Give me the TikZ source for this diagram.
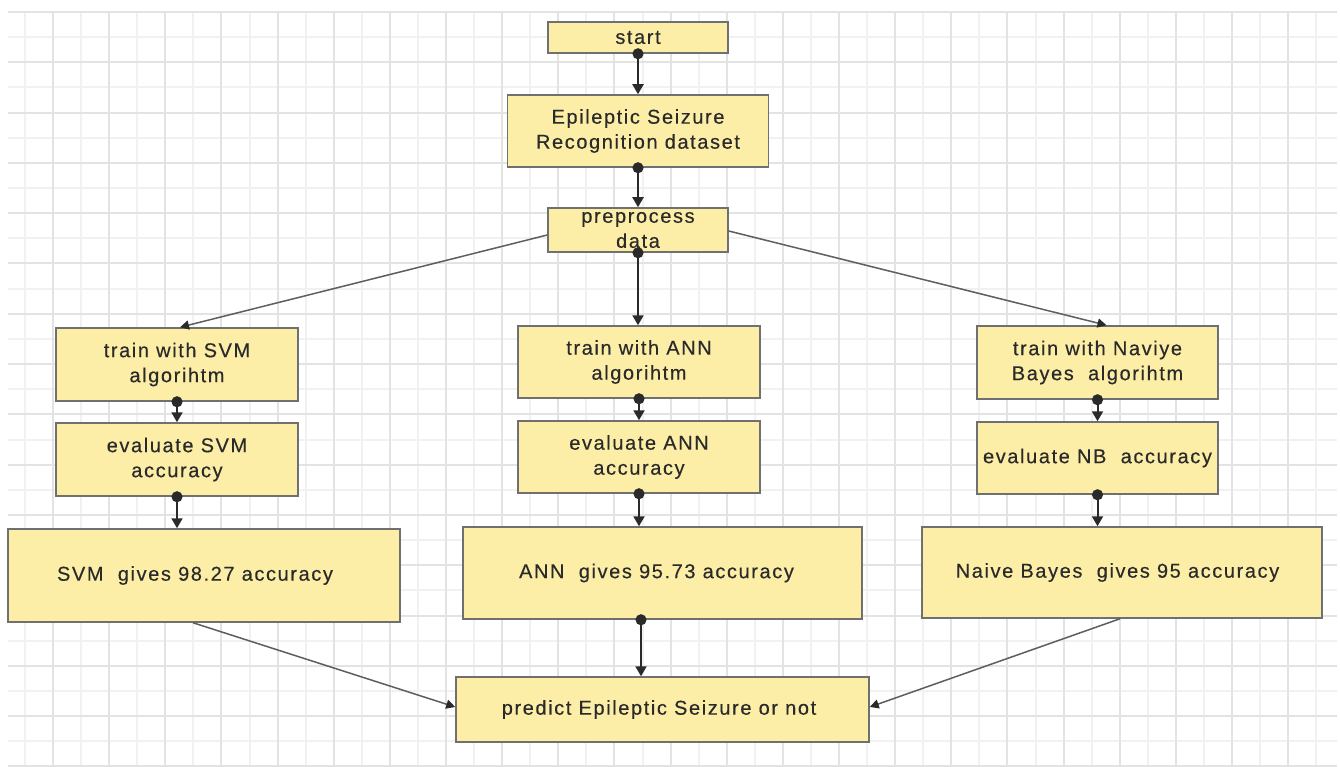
\documentclass[tikz,border=0pt]{standalone}
\usepackage{fontspec}
\usetikzlibrary{arrows.meta}
\newfontfamily\boxfont{Liberation Sans}[LetterSpace=8,FakeBold=0.3]

\definecolor{boxfill}{HTML}{FDEEA7}
\definecolor{boxline}{HTML}{707070}
\definecolor{ink}{HTML}{2A2A2A}
\definecolor{sidegray}{HTML}{5E5E5E}
\definecolor{gridminor}{HTML}{F1F1F1}
\definecolor{gridmajor}{HTML}{E3E3E3}

\begin{document}
\begin{tikzpicture}[x=1pt,y=-1pt,
  box/.style={draw=boxline, line width=1.5pt, fill=boxfill, text=ink,
    align=center, inner sep=0pt, font=\boxfont\fontsize{20}{25}\selectfont},
  flow/.style={draw=ink, line width=2pt, shorten <=-5.5pt,
    {Circle[length=11pt]}-{Triangle[width=11pt,length=10pt]}},
  side/.style={draw=sidegray, line width=1.5pt,
    -{Triangle[width=9pt,length=9pt,color=ink]}},
  minorline/.style={draw=gridminor, line width=2pt},
  majorline/.style={draw=gridmajor, line width=2pt}
]
\useasboundingbox (0,0) rectangle (1340,767);
\fill[white] (0,0) rectangle (1340,767);

% background grid: light lines, with every other line a little darker
\foreach \i in {0,2,...,46}{
  \draw[minorline] ({round(25+28.07*\i)},11) -- ({round(25+28.07*\i)},767);
}
\foreach \j in {1,3,...,29}{
  \draw[minorline] (8,{round(12+25.15*\j)}) -- (1337,{round(12+25.15*\j)});
}
\foreach \i in {1,3,...,45}{
  \draw[majorline] ({round(25+28.07*\i)},11) -- ({round(25+28.07*\i)},767);
}
\foreach \j in {0,2,...,30}{
  \draw[majorline] (8,{round(12+25.15*\j)}) -- (1337,{round(12+25.15*\j)});
}

% main column
\node[box, minimum width=180pt, minimum height=31pt] (start) at (638,37.5) {start};
\node[box, minimum width=261pt, minimum height=72pt] (data) at (638,131) {Epileptic Seizure\\Recognition dataset};
\node[box, minimum width=180pt, minimum height=44pt] (pre) at (638,230) {preprocess\\data};

% SVM branch
\node[box, minimum width=242pt, minimum height=73pt] (svmt) at (177,364.5) {train with SVM\\algorihtm};
\node[box, minimum width=242pt, minimum height=73pt] (svme) at (177,459.5) {evaluate SVM\\accuracy};
\node[box, minimum width=392pt, minimum height=93pt] (svmg) at (204,575.5) {SVM\ \ gives 98.27 accuracy\hspace*{18pt}};

% ANN branch
\node[box, minimum width=242pt, minimum height=72pt] (annt) at (639,362) {train with ANN\\algorihtm};
\node[box, minimum width=242pt, minimum height=72pt] (anne) at (639,457) {evaluate ANN\\accuracy};
\node[box, minimum width=399pt, minimum height=92pt] (anng) at (662.5,573) {ANN\ \ gives 95.73 accuracy\hspace*{12pt}};

% Naive Bayes branch
\node[box, minimum width=241pt, minimum height=73pt] (nbt) at (1097.5,362.5) {train with Naviye\\Bayes\ \ algorihtm};
\node[box, minimum width=241pt, minimum height=72pt] (nbe) at (1097.5,458) {evaluate NB\ \ accuracy};
\node[box, minimum width=400pt, minimum height=91pt] (nbg) at (1122,572.5) {Naive Bayes\ \ gives 95 accuracy\hspace*{9pt}};

% final step
\node[box, minimum width=413pt, minimum height=65pt] (pred) at (662.5,709.5) {predict Epileptic Seizure or not\hspace*{7pt}};

% connectors
\draw[flow] (start.south) -- (data.north);
\draw[flow] (data.south) -- (pre.north);
\draw[flow] (pre.south) -- (pre.south |- annt.north);
\draw[side] ([yshift=-5pt]pre.west) -- ([xshift=3pt]svmt.north);
\draw[side] ([yshift=-1pt]pre.east) -- ([xshift=9pt]nbt.north);

\draw[flow] (svmt.south) -- (svme.north);
\draw[flow] (svme.south) -- (svme.south |- svmg.north);
\draw[flow] (annt.south) -- (anne.north);
\draw[flow] (anne.south) -- (anne.south |- anng.north);
\draw[flow] (nbt.south) -- (nbe.north);
\draw[flow] (nbe.south) -- (nbe.south |- nbg.north);

\draw[flow] ([xshift=-21.5pt]anng.south) -- ([xshift=-21.5pt]pred.north);
\draw[side] ([xshift=-11pt]svmg.south) -- ([yshift=2.5pt]pred.west);
\draw[side] ([xshift=-2pt]nbg.south) -- ([yshift=2.5pt]pred.east);
\end{tikzpicture}
\end{document}
